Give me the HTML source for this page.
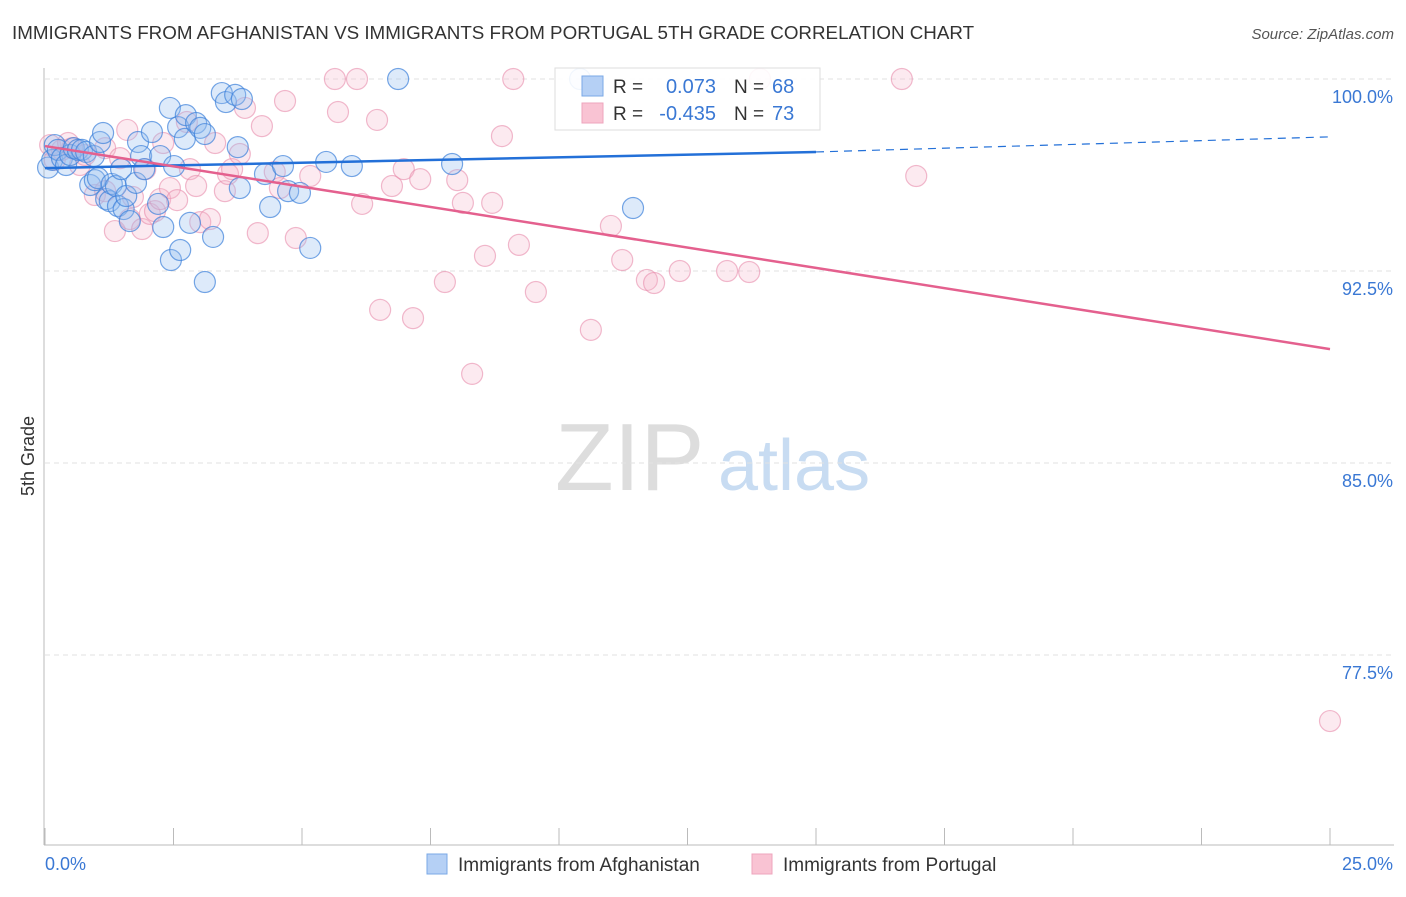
<!DOCTYPE html>
<html><head><meta charset="utf-8"><style>
body{margin:0;background:#fff;font-family:"Liberation Sans",sans-serif}
svg text{font-family:"Liberation Sans",sans-serif}
</style></head><body>
<svg id="c" width="1406" height="892"></svg>
<script>
const blueX=[0.06,0.14,0.19,0.25,0.33,0.41,0.49,0.56,0.64,0.72,0.80,0.88,0.95,0.97,1.03,1.07,1.13,1.19,1.26,1.30,1.38,1.42,1.48,1.53,1.58,1.65,1.77,1.81,1.87,1.93,2.08,2.20,2.30,2.24,2.43,2.51,2.45,2.63,2.59,2.72,2.74,2.82,2.94,3.02,3.11,3.11,3.27,3.44,3.52,3.70,3.75,3.83,3.79,4.28,4.38,4.63,4.73,4.96,5.16,5.47,5.97,6.87,7.92,10.41,11.44];
const blueY=[96.54,96.84,97.42,97.23,96.91,96.64,97.03,97.30,97.23,97.23,97.15,95.86,96.99,96.05,96.13,97.54,97.89,95.31,95.23,95.90,95.82,95.04,96.48,94.92,95.43,94.45,95.94,97.54,96.99,96.48,97.93,95.12,94.22,96.99,98.87,96.60,92.93,93.32,98.12,97.66,98.59,94.38,98.28,98.09,92.07,97.85,93.83,99.45,99.10,99.38,97.34,99.22,95.74,96.29,95.00,96.60,95.62,95.55,93.40,96.76,96.60,100.0,96.68,100.0,94.96];
const pinkX=[0.10,0.19,0.33,0.45,0.53,0.68,0.78,0.97,1.17,1.17,1.36,1.46,1.60,1.65,1.71,1.89,1.95,2.04,2.14,2.24,2.30,2.43,2.57,2.76,2.82,2.94,3.02,3.21,3.31,3.50,3.56,3.64,3.79,3.89,4.14,4.22,4.47,4.57,4.67,4.88,5.16,5.64,5.70,6.07,6.17,6.46,6.52,6.75,6.98,7.16,7.30,7.78,8.02,8.13,8.31,8.56,8.70,8.89,9.11,9.22,9.55,10.62,11.01,11.23,11.71,11.85,12.35,13.27,13.70,13.91,16.67,16.95,25.0];
const pinkY=[97.42,96.84,97.23,97.50,97.30,96.64,97.03,95.47,97.30,95.62,94.06,96.91,98.01,94.53,95.39,94.14,96.48,94.73,94.84,95.31,97.50,95.74,95.27,98.32,96.48,95.82,94.41,94.53,97.50,95.62,96.29,96.48,97.07,98.87,93.98,98.16,96.37,95.74,99.14,93.79,96.21,100.0,98.71,100.0,95.12,98.40,90.98,95.82,96.48,90.66,96.09,92.07,96.05,95.16,88.48,93.09,95.16,97.77,100.0,93.52,91.68,90.20,94.26,92.93,92.15,92.03,92.50,92.50,92.46,100.0,100.0,96.21,74.92];
const yTicks=[100,92.5,85,77.5];
const yTickLabels=["100.0%","92.5%","85.0%","77.5%"];
const xTicks=[0,2.5,5,7.5,10,12.5,15,17.5,20,22.5,25];
const blueLine=[[0,96.52],[15,97.15],[25,97.74]];
const pinkLine=[[0,97.38],[25,89.45]];
const NS='http://www.w3.org/2000/svg';
const svg=document.getElementById('c');
const X=v=>45+v*51.4, Y=v=>79+(100-v)*25.6;
function el(t,a,p){const e=document.createElementNS(NS,t);for(const k in a)e.setAttribute(k,a[k]);(p||svg).appendChild(e);return e;}
let t=el('text',{x:12,y:39,'font-size':18.8,fill:'#333'});t.textContent='IMMIGRANTS FROM AFGHANISTAN VS IMMIGRANTS FROM PORTUGAL 5TH GRADE CORRELATION CHART';

t=el('text',{x:1394,y:39,'font-size':15,fill:'#555','text-anchor':'end','font-style':'italic'});t.textContent='Source: ZipAtlas.com';

t=el('text',{x:555,y:490,'font-size':96,fill:'#ddd','font-family':'Liberation Serif'});t.textContent='ZIP';

t=el('text',{x:718,y:490,'font-size':72,fill:'#c8dcf2'});t.textContent='atlas';

yTicks.forEach((v,i)=>{
 let g=el('line',{x1:45,x2:1394,y1:Y(v),y2:Y(v),stroke:'#e2e2e2','stroke-dasharray':'5,4'});
 
 let l=el('text',{x:1393,y:Y(v)+24,'font-size':18,fill:'#3a78d4','text-anchor':'end'});l.textContent=yTickLabels[i];
 
});
let a=el('line',{x1:44,x2:44,y1:68,y2:845,stroke:'#bbb'});
a=el('line',{x1:44,x2:1394,y1:845,y2:845,stroke:'#bbb'});
xTicks.forEach(v=>{let k=el('line',{x1:X(v),x2:X(v),y1:828,y2:845,stroke:'#bbb'});});
t=el('text',{x:45,y:870,'font-size':18,fill:'#3a78d4'});t.textContent='0.0%';
t=el('text',{x:1393,y:870,'font-size':18,fill:'#3a78d4','text-anchor':'end'});t.textContent='25.0%';
t=el('text',{x:34,y:456,'font-size':18,fill:'#333','text-anchor':'middle',transform:'rotate(-90 34 456)'});t.textContent='5th Grade';

function pts(xs,ys,fill,stroke,name){xs.forEach((v,i)=>{let c=el('circle',{cx:X(v),cy:Y(ys[i]),r:10.5,fill:fill,stroke:stroke,'stroke-width':1.2});
 });}
pts(pinkX,pinkY,'rgba(246,178,202,0.28)','rgba(232,140,172,0.6)','portugal-point');
pts(blueX,blueY,'rgba(150,190,240,0.32)','rgba(60,128,218,0.7)','afghanistan-point');
let L=el('line',{x1:X(blueLine[0][0]),y1:Y(blueLine[0][1]),x2:X(blueLine[1][0]),y2:Y(blueLine[1][1]),stroke:'#2370d8','stroke-width':2.5});

L=el('line',{x1:X(blueLine[1][0]),y1:Y(blueLine[1][1]),x2:X(blueLine[2][0]),y2:Y(blueLine[2][1]),stroke:'#2370d8','stroke-width':1.2,'stroke-dasharray':'8,6'});

L=el('line',{x1:X(pinkLine[0][0]),y1:Y(pinkLine[0][1]),x2:X(pinkLine[1][0]),y2:Y(pinkLine[1][1]),stroke:'#e4608e','stroke-width':2.5});

let g=el('g',{});
el('rect',{x:555,y:68,width:265,height:62,fill:'rgba(255,255,255,0.9)',stroke:'#ddd'},g);
el('rect',{x:582,y:76,width:21,height:20,fill:'#b5d0f5',stroke:'#7aa8e6'},g);
el('rect',{x:582,y:103,width:21,height:20,fill:'#f9c3d3',stroke:'#eea4bd'},g);
[['R = ','0.073','N = ','68',93],['R = ','-0.435','N = ','73',120]].forEach(r=>{
 let a=el('text',{x:613,y:r[4],'font-size':19,fill:'#333'},g);a.textContent=r[0];
 a=el('text',{x:716,y:r[4],'font-size':20,fill:'#3a78d4','text-anchor':'end'},g);a.textContent=r[1];
 a=el('text',{x:734,y:r[4],'font-size':19,fill:'#333'},g);a.textContent=r[2];
 a=el('text',{x:772,y:r[4],'font-size':20,fill:'#3a78d4'},g);a.textContent=r[3];
});
let b=el('g',{});
el('rect',{x:427,y:854,width:20,height:20,fill:'#b5d0f5',stroke:'#7aa8e6'},b);
let bt=el('text',{x:458,y:871,'font-size':19,fill:'#333'},b);bt.textContent='Immigrants from Afghanistan';
el('rect',{x:752,y:854,width:20,height:20,fill:'#f9c3d3',stroke:'#eea4bd'},b);
bt=el('text',{x:783,y:871,'font-size':19,fill:'#333'},b);bt.textContent='Immigrants from Portugal';
</script>
</body></html>
